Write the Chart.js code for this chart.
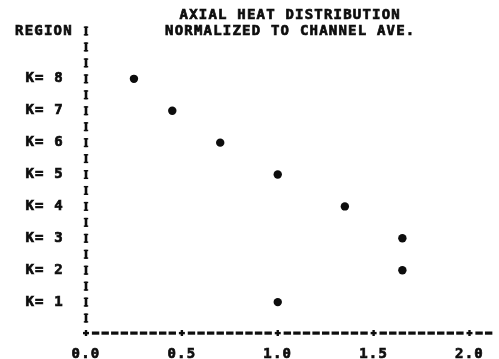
<!DOCTYPE html>
<html>
<head>
<meta charset="utf-8">
<title>Axial heat distribution</title>
<script src="https://cdn.jsdelivr.net/npm/chart.js@4/dist/chart.umd.min.js"></script>
<style>
  html, body { margin: 0; padding: 0; background: #fff; }
  canvas { display: block; }
</style>
</head>
<body>
<canvas id="heatChart" width="499" height="359"></canvas>
<script>
// axial regions, bottom to top
const regions = [1, 2, 3, 4, 5, 6, 7, 8];
const regionLabels = ['K= 1', 'K= 2', 'K= 3', 'K= 4', 'K= 5', 'K= 6', 'K= 7', 'K= 8'];
// region heat normalized to the channel average
const heatRatio = [1.00, 1.65, 1.65, 1.35, 1.00, 0.70, 0.45, 0.25];
const ratioTicks = [0.0, 0.5, 1.0, 1.5, 2.0];
const titleLines = ['AXIAL HEAT DISTRIBUTION', 'NORMALIZED TO CHANNEL AVE.'];
const regionHeading = 'REGION';

const INK = '#0d0d0d';
const MONO = '"DejaVu Sans Mono", "Liberation Mono", monospace';
const SPACING = '1.2px';
const TEXT_FONT = { family: MONO, size: 14, weight: 'bold' };

// printer-style frame: title, column of I's, dashed baseline with + marks
const printerFrame = {
    id: 'printerFrame',
    beforeLayout(chart) { chart.ctx.letterSpacing = SPACING; },
    beforeDraw(chart) {
        const { ctx, width, height } = chart;
        ctx.save();
        ctx.fillStyle = '#fff';
        ctx.fillRect(0, 0, width, height);
        ctx.restore();
        ctx.letterSpacing = SPACING;
    },
    afterDraw(chart) {
        const { ctx, chartArea } = chart;
        const xs = chart.scales.x, ys = chart.scales.y;
        const axisX = xs.getPixelForValue(0);
        const baseY = ys.getPixelForValue(0) - 1;
        const row = ys.getPixelForValue(0) - ys.getPixelForValue(0.5);

        ctx.save();
        ctx.fillStyle = INK;
        ctx.strokeStyle = INK;
        ctx.lineWidth = 0.7;
        ctx.letterSpacing = SPACING;
        ctx.font = 'bold 14px ' + MONO;
        ctx.textBaseline = 'middle';

        // title, last line on the top printer row
        ctx.textAlign = 'center';
        const cx = (chartArea.left + chartArea.right) / 2 + 1;
        titleLines.forEach((line, i) => {
            const y = chartArea.top - (titleLines.length - 1 - i) * row;
            ctx.fillText(line, cx, y);
            ctx.strokeText(line, cx, y);
        });

        ctx.textAlign = 'left';
        ctx.fillText(regionHeading, axisX - 71, chartArea.top);
        ctx.strokeText(regionHeading, axisX - 71, chartArea.top);

        // vertical axis drawn as a column of I's
        for (let v = 0.5; v <= ys.max + 1e-6; v += 0.5) {
            const y = ys.getPixelForValue(v);
            ctx.fillRect(axisX - 1.3, y - 4.5, 2.6, 9);
            ctx.fillRect(axisX - 2.2, y - 4.5, 4.4, 1.4);
            ctx.fillRect(axisX - 2.2, y + 3.1, 4.4, 1.4);
        }

        // horizontal axis: a dash every 0.05, a + every 0.5
        const steps = Math.floor(xs.max / 0.05 + 1e-6);
        for (let i = 0; i <= steps; i++) {
            const x = xs.getPixelForValue(i * 0.05);
            if (i % 10 === 0) {
                ctx.fillRect(x - 3, baseY - 1.1, 6, 2.4);
                ctx.fillRect(x - 1.2, baseY - 3, 2.4, 6);
            } else {
                ctx.fillRect(x - 3.7, baseY - 1.5, 7.4, 3.2);
            }
        }
        ctx.restore();
    }
};

new Chart(document.getElementById('heatChart'), {
    type: 'scatter',
    data: {
        datasets: [{
            label: 'Heat ratio',
            data: regions.map((k, i) => ({ x: heatRatio[i], y: k })),
            pointStyle: 'circle',
            pointRadius: 4.2,
            pointBackgroundColor: INK,
            pointBorderWidth: 0
        }]
    },
    options: {
        responsive: false,
        animation: false,
        layout: { padding: { top: 31, right: 6.5, left: 0, bottom: 0 } },
        plugins: {
            legend: { display: false },
            title: { display: false },
            tooltip: { enabled: false }
        },
        scales: {
            x: {
                type: 'linear',
                min: 0,
                max: 2.12,
                grid: { display: false, drawTicks: false },
                border: { display: false },
                afterBuildTicks: (scale) => { scale.ticks = ratioTicks.map(v => ({ value: v })); },
                afterFit: (scale) => {
                    scale.height = 25;
                    scale.paddingLeft = 0;
                    scale.paddingRight = 0;
                },
                ticks: {
                    autoSkip: false,
                    maxRotation: 0,
                    padding: 11.5,
                    color: INK,
                    textStrokeColor: INK,
                    textStrokeWidth: 0.7,
                    font: TEXT_FONT,
                    callback: (v) => Number(v).toFixed(1)
                }
            },
            y: {
                type: 'linear',
                min: 0,
                max: 9.5,
                grid: { display: false, drawTicks: false },
                border: { display: false },
                afterBuildTicks: (scale) => { scale.ticks = regions.map(v => ({ value: v })); },
                afterFit: (scale) => {
                    scale.width = 86;
                    scale.paddingTop = 0;
                    scale.paddingBottom = 0;
                },
                ticks: {
                    autoSkip: false,
                    padding: 22,
                    color: INK,
                    textStrokeColor: INK,
                    textStrokeWidth: 0.7,
                    font: TEXT_FONT,
                    callback: (v) => regionLabels[regions.indexOf(v)]
                }
            }
        }
    },
    plugins: [printerFrame]
});
</script>
</body>
</html>
